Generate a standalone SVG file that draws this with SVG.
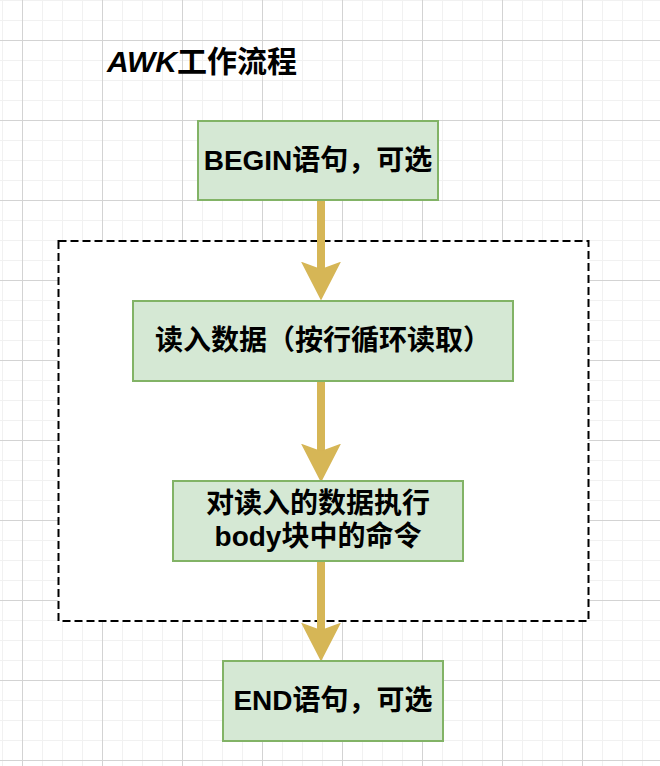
<svg xmlns="http://www.w3.org/2000/svg" width="660" height="766" viewBox="0 0 660 766">
<style>
.node rect{fill:#d5e8d4;stroke:#82b366;stroke-width:2}
.lbl{font-family:"Liberation Sans","Noto Sans CJK SC",sans-serif;font-weight:bold;font-size:28px;fill:#000;text-anchor:middle}
.conn path{fill:none;stroke:#d6b656;stroke-width:8}
</style>
<defs>
<pattern id="minor" patternUnits="userSpaceOnUse" x="2" y="0" width="20" height="20">
<path d="M0 0.5H20M0.5 0V20" fill="none" stroke="#f1f1f1" stroke-width="1"/>
</pattern>
<pattern id="major" patternUnits="userSpaceOnUse" x="22" y="40" width="80" height="80">
<path d="M0 0.5H80M0.5 0V80" fill="none" stroke="#d3d3d3" stroke-width="1"/>
</pattern>
<marker id="arr" markerUnits="userSpaceOnUse" markerWidth="40" markerHeight="40" viewBox="0 0 38 38" refX="7" refY="19" orient="auto">
<polygon points="0,0 37,19 0,38 7,19" fill="#d6b656"/>
</marker>
</defs>
<rect width="660" height="766" fill="#ffffff"/>
<rect width="660" height="766" fill="url(#minor)"/>
<rect width="660" height="766" fill="url(#major)"/>
<g id="title">
<text x="107" y="72" font-family="Liberation Sans,'Noto Sans CJK SC',sans-serif" font-weight="bold" font-size="30"><tspan font-style="italic">AWK</tspan>工作流程</text>
</g>
<g id="loop">
<rect x="58.5" y="241" width="530" height="380" fill="#ffffff" stroke="#000000" stroke-width="2" stroke-dasharray="8 4"/>
</g>
<g id="conns" class="conn">
<path d="M321 201V269" marker-end="url(#arr)"/>
<path d="M321 381V451" marker-end="url(#arr)"/>
<path d="M321 561V630" marker-end="url(#arr)"/>
</g>
<g id="begin" class="node">
<rect x="198" y="121" width="240" height="79"/>
<text class="lbl" x="318" y="170">BEGIN语句，可选</text>
</g>
<g id="read" class="node">
<rect x="133" y="301" width="380" height="80"/>
<text class="lbl" x="323" y="350">读入数据（按行循环读取）</text>
</g>
<g id="exec" class="node">
<rect x="173" y="481" width="290" height="80"/>
<text class="lbl" x="318" y="513">对读入的数据执行</text>
<text class="lbl" x="318" y="546">body块中的命令</text>
</g>
<g id="end" class="node">
<rect x="223" y="661" width="220" height="80"/>
<text class="lbl" x="333" y="710">END语句，可选</text>
</g>
</svg>
